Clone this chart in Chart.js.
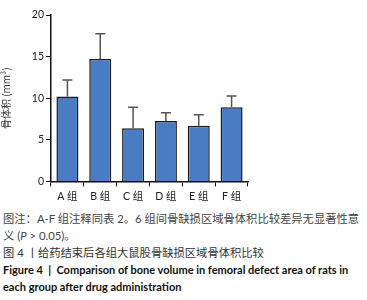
<!DOCTYPE html>
<html>
<head>
<meta charset="utf-8">
<script src="https://cdn.jsdelivr.net/npm/chart.js@4"></script>
<style>
  body { margin: 0; background: #fff; width: 367px; height: 300px; overflow: hidden; }
  #wrap { position: relative; width: 367px; height: 207px; }
  .cap { font-family: Lato, "Noto Sans CJK SC", sans-serif; font-size: 11.3px; line-height: 17px; height: 17px; margin: 0 0 0 3px; white-space: nowrap; }
  .note { color: #444; }
  .title-cn { color: #333; }
  .title-en { color: #111; font-weight: bold; font-size: 11px; }
</style>
</head>
<body>
<div id="wrap"><canvas id="chart" width="367" height="207"></canvas></div>
<div style="margin-top:3px">
  <p class="cap note">图注：A-F 组注释同表 2。6 组间骨缺损区域骨体积比较差异无显著性意</p>
  <p class="cap note">义 (<i>P</i> &gt; 0.05)。</p>
  <p class="cap title-cn">图 4 丨给药结束后各组大鼠股骨缺损区域骨体积比较</p>
  <p class="cap title-en">Figure 4 &nbsp;|&nbsp; Comparison of bone volume in femoral defect area of rats in</p>
  <p class="cap title-en">each group after drug administration</p>
</div>
<script>
// 组别
var grupos = ["A 组", "B 组", "C 组", "D 组", "E 组", "F 组"];
// 骨体积均值 (mm³)
var medias = [10.2, 14.7, 6.4, 7.25, 6.7, 8.9];
// 标准差（只画上半部分）
var desvios = [2.0, 3.05, 2.5, 1.0, 1.3, 1.35];

// 误差线插件
var errorBars = {
  id: "errorBars",
  afterDatasetsDraw: function(chart) {
    var ctx = chart.ctx;
    var meta = chart.getDatasetMeta(0);
    var y = chart.scales.y;
    ctx.save();
    ctx.strokeStyle = "#555";
    ctx.lineWidth = 1.5;
    meta.data.forEach(function(bar, i) {
      var top = y.getPixelForValue(medias[i] + desvios[i]);
      ctx.beginPath();
      ctx.moveTo(bar.x, bar.y);
      ctx.lineTo(bar.x, top);
      ctx.moveTo(bar.x - 5, top);
      ctx.lineTo(bar.x + 5, top);
      ctx.stroke();
    });
    ctx.restore();
  }
};

var chart = new Chart("chart", {
  type: "bar",
  data: {
    labels: grupos,
    datasets: [{
      data: medias,
      backgroundColor: "#4a7cc3",
      borderColor: "#1a1a1a",
      borderWidth: 1.5,
      barPercentage: 0.67,
      categoryPercentage: 1
    }]
  },
  options: {
    responsive: false,
    animation: false,
    plugins: { legend: { display: false }, tooltip: { enabled: false } },
    layout: { padding: { top: 15, right: 119, bottom: 0, left: 0 } },
    scales: {
      x: {
        grid: { display: true, drawOnChartArea: false, drawTicks: true, tickLength: 5, color: "#111" },
        border: { color: "#111", width: 1.5 },
        ticks: { color: "#222", font: { family: "Lato, 'Noto Sans CJK SC'", size: 10.5 }, padding: 4 }
      },
      y: {
        min: 0, max: 20,
        afterFit: function(s) { s.width = 51; },
        grid: { display: true, drawOnChartArea: false, drawTicks: true, tickLength: 5, color: "#111" },
        border: { color: "#111", width: 1.5 },
        ticks: { stepSize: 5, color: "#222", font: { family: "Lato", size: 10.5 }, padding: 2 },
        title: { display: true, text: "骨体积 (mm³)", color: "#333", font: { family: "'Noto Sans CJK SC'", size: 10 }, padding: 0 }
      }
    }
  },
  plugins: [errorBars]
});
</script>
</body>
</html>
